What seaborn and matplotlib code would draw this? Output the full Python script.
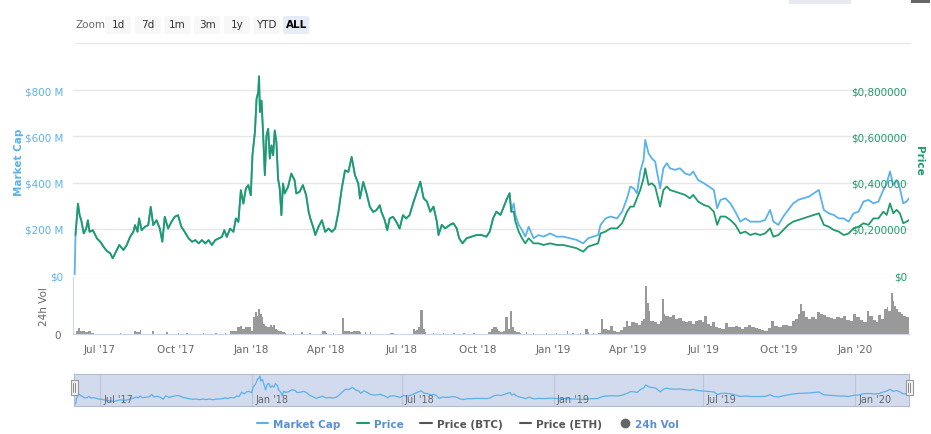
import matplotlib
matplotlib.use("Agg")
import matplotlib.pyplot as plt
import matplotlib.dates as mdates
from matplotlib.lines import Line2D
from matplotlib.patches import FancyBboxPatch, Rectangle
import numpy as np
import pandas as pd
import seaborn as sns

# market cap ($M) and price share the same curve until mid Nov 2018
shared_dates = [
    "2017-06-02", "2017-06-05", "2017-06-07", "2017-06-09", "2017-06-12", "2017-06-15", "2017-06-17", "2017-06-19", "2017-06-23", "2017-06-28",
    "2017-07-02", "2017-07-06", "2017-07-10", "2017-07-14", "2017-07-17", "2017-07-20", "2017-07-25", "2017-07-30",
    "2017-08-03", "2017-08-07", "2017-08-11", "2017-08-13", "2017-08-16", "2017-08-18", "2017-08-21", "2017-08-25", "2017-08-29",
    "2017-09-01", "2017-09-04", "2017-09-08", "2017-09-12", "2017-09-15", "2017-09-18", "2017-09-22", "2017-09-26", "2017-09-30",
    "2017-10-04", "2017-10-08", "2017-10-12", "2017-10-17", "2017-10-21", "2017-10-25", "2017-10-29",
    "2017-11-02", "2017-11-06", "2017-11-10", "2017-11-14", "2017-11-18", "2017-11-22", "2017-11-26", "2017-11-29",
    "2017-12-02", "2017-12-06", "2017-12-10", "2017-12-13", "2017-12-16", "2017-12-19", "2017-12-22", "2017-12-25", "2017-12-28", "2017-12-31",
    "2018-01-02", "2018-01-05", "2018-01-07", "2018-01-09", "2018-01-10", "2018-01-11", "2018-01-13", "2018-01-15",
    "2018-01-17", "2018-01-19", "2018-01-21", "2018-01-23", "2018-01-25", "2018-01-27", "2018-01-29", "2018-01-31",
    "2018-02-02", "2018-02-04", "2018-02-06", "2018-02-08", "2018-02-10", "2018-02-14", "2018-02-18", "2018-02-22", "2018-02-24", "2018-02-28",
    "2018-03-04", "2018-03-08", "2018-03-11", "2018-03-13", "2018-03-17", "2018-03-19", "2018-03-23", "2018-03-27", "2018-03-31",
    "2018-04-04", "2018-04-08", "2018-04-12", "2018-04-16", "2018-04-20", "2018-04-24", "2018-04-28",
    "2018-05-02", "2018-05-06", "2018-05-10", "2018-05-12", "2018-05-16", "2018-05-20", "2018-05-24", "2018-05-28",
    "2018-06-01", "2018-06-05", "2018-06-07", "2018-06-11", "2018-06-14", "2018-06-17", "2018-06-21", "2018-06-25", "2018-06-29",
    "2018-07-03", "2018-07-07", "2018-07-11", "2018-07-16", "2018-07-20", "2018-07-24", "2018-07-28",
    "2018-08-01", "2018-08-05", "2018-08-09", "2018-08-13", "2018-08-15", "2018-08-19", "2018-08-23", "2018-08-29",
    "2018-09-02", "2018-09-06", "2018-09-09", "2018-09-13", "2018-09-18", "2018-09-24", "2018-09-30",
    "2018-10-06", "2018-10-12", "2018-10-16", "2018-10-20", "2018-10-24", "2018-10-29",
    "2018-11-02", "2018-11-06", "2018-11-09", "2018-11-11",
]
shared_musd = [
    173, 309, 259, 237, 180, 201, 237, 187, 194, 158,
    144, 122, 104, 94, 72, 94, 130, 108,
    130, 165, 187, 216, 187, 245, 194, 209, 216,
    295, 216, 237, 201, 144, 252, 201, 230, 252,
    259, 209, 187, 158, 144, 151, 137,
    151, 137, 151, 130, 151, 158, 165, 194,
    165, 201, 187, 245, 230, 367, 309, 374, 389, 345,
    518, 619, 763, 791, 860, 705, 755, 604,
    432, 604, 633, 504, 561, 518, 626, 576,
    417, 374, 259, 396, 353, 381, 439, 410, 353, 360,
    389, 345, 273, 245, 201, 173, 209, 237, 187,
    201, 187, 201, 273, 374, 453, 446,
    511, 432, 396, 331, 403, 353, 295, 273,
    281, 302, 273, 237, 194, 245, 252, 230, 201,
    259, 245, 259, 318, 361, 404, 332,
    318, 274, 296, 231, 173, 217, 202, 217,
    224, 202, 159, 137, 159, 166, 173,
    173, 166, 188, 245, 274, 260,
    296, 332, 354, 274,
]

# after mid Nov 2018 the two curves split
late_dates = [
    "2018-11-14", "2018-11-16", "2018-11-20", "2018-11-24", "2018-11-28",
    "2018-12-02", "2018-12-08", "2018-12-14", "2018-12-20", "2018-12-28",
    "2019-01-05", "2019-01-13", "2019-01-21", "2019-01-29",
    "2019-02-06", "2019-02-12", "2019-02-18", "2019-02-24", "2019-02-27",
    "2019-03-05", "2019-03-11", "2019-03-19", "2019-03-25", "2019-03-31",
    "2019-04-04", "2019-04-08", "2019-04-12", "2019-04-16", "2019-04-20", "2019-04-22", "2019-04-26", "2019-04-30",
    "2019-05-04", "2019-05-10", "2019-05-14", "2019-05-18", "2019-05-22", "2019-05-28",
    "2019-06-03", "2019-06-09", "2019-06-15", "2019-06-19", "2019-06-25",
    "2019-07-02", "2019-07-08", "2019-07-14", "2019-07-18", "2019-07-22", "2019-07-28",
    "2019-08-03", "2019-08-09", "2019-08-15", "2019-08-21", "2019-08-27",
    "2019-09-02", "2019-09-08", "2019-09-14", "2019-09-20", "2019-09-24", "2019-09-30",
    "2019-10-06", "2019-10-12", "2019-10-18", "2019-10-24", "2019-10-30",
    "2019-11-06", "2019-11-12", "2019-11-18", "2019-11-24", "2019-11-30",
    "2019-12-06", "2019-12-12", "2019-12-18", "2019-12-24", "2019-12-30",
    "2020-01-05", "2020-01-11", "2020-01-17", "2020-01-23", "2020-01-29",
    "2020-02-04", "2020-02-08", "2020-02-12", "2020-02-16", "2020-02-20", "2020-02-24", "2020-02-28",
    "2020-03-03", "2020-03-06",
]
late_mcap_musd = [
    310, 260, 217, 195, 166,
    209, 159, 173, 166, 180,
    166, 166, 159, 152,
    137, 159, 166, 173, 217,
    245, 253, 245, 274, 332,
    383, 375, 354, 448, 498, 585, 527, 505,
    491, 375, 462, 484, 462, 455,
    462, 440, 433, 448, 411,
    397, 383, 368, 289, 325, 332,
    310, 274, 231, 245, 231,
    231, 231, 238, 282, 231, 217,
    253, 282, 310, 325, 332,
    339, 354, 368, 282, 267,
    260, 245, 245, 231, 267,
    274, 318, 325, 310, 318,
    368, 397, 448, 390, 411, 375, 310,
    318, 332,
]
late_price_usd = [
    0.274, 0.231, 0.188, 0.159, 0.137,
    0.159, 0.137, 0.137, 0.130, 0.137,
    0.130, 0.130, 0.123, 0.116,
    0.101, 0.123, 0.130, 0.137, 0.180,
    0.188, 0.202, 0.202, 0.224, 0.274,
    0.296, 0.296, 0.332, 0.368, 0.419, 0.462, 0.390, 0.397,
    0.383, 0.296, 0.368, 0.383, 0.368, 0.361,
    0.354, 0.347, 0.332, 0.347, 0.318,
    0.303, 0.296, 0.274, 0.217, 0.253, 0.253,
    0.238, 0.217, 0.180, 0.188, 0.173,
    0.180, 0.173, 0.180, 0.202, 0.166, 0.173,
    0.195, 0.217, 0.231, 0.238, 0.245,
    0.253, 0.260, 0.267, 0.217, 0.209,
    0.195, 0.188, 0.173, 0.180, 0.202,
    0.209, 0.224, 0.217, 0.245, 0.245,
    0.274, 0.260, 0.310, 0.267, 0.282, 0.267, 0.224,
    0.231, 0.238,
]

# 24h volume (relative units, $M)
vol_dates = [
    "2017-06-03", "2017-06-05", "2017-06-07", "2017-06-11", "2017-06-13", "2017-06-17", "2017-06-20", "2017-06-23",
    "2017-07-06", "2017-07-26", "2017-08-12", "2017-08-14", "2017-08-19", "2017-09-03", "2017-09-20",
    "2017-10-04", "2017-10-14", "2017-11-03", "2017-11-18", "2017-11-30",
    "2017-12-06", "2017-12-10", "2017-12-14", "2017-12-18", "2017-12-20", "2017-12-24", "2017-12-28", "2017-12-31",
    "2018-01-03", "2018-01-05", "2018-01-07", "2018-01-09", "2018-01-11", "2018-01-13", "2018-01-15",
    "2018-01-17", "2018-01-19", "2018-01-23", "2018-01-25", "2018-01-27", "2018-01-29", "2018-01-31",
    "2018-02-02", "2018-02-06", "2018-02-10", "2018-02-20", "2018-03-02", "2018-03-12", "2018-03-27",
    "2018-04-01", "2018-04-09", "2018-04-20", "2018-04-22", "2018-04-26", "2018-04-30",
    "2018-05-04", "2018-05-08", "2018-05-12", "2018-05-18", "2018-05-24", "2018-06-17", "2018-06-21",
    "2018-07-15", "2018-07-17", "2018-07-19", "2018-07-21", "2018-07-24", "2018-07-27", "2018-07-29",
    "2018-08-08", "2018-08-20", "2018-09-02", "2018-09-14", "2018-09-26",
    "2018-10-14", "2018-10-18", "2018-10-20", "2018-10-22", "2018-10-24", "2018-10-26", "2018-10-28",
    "2018-11-01", "2018-11-04", "2018-11-07", "2018-11-10", "2018-11-12", "2018-11-14", "2018-11-17", "2018-11-21", "2018-11-29",
    "2018-12-07", "2018-12-23", "2019-01-04", "2019-01-17", "2019-01-24",
    "2019-02-02", "2019-02-08", "2019-02-12", "2019-02-18", "2019-02-24", "2019-02-27",
    "2019-03-02", "2019-03-06", "2019-03-10", "2019-03-14", "2019-03-18", "2019-03-22", "2019-03-26", "2019-03-30",
    "2019-04-01", "2019-04-05", "2019-04-09", "2019-04-13", "2019-04-17", "2019-04-19", "2019-04-22", "2019-04-24", "2019-04-26", "2019-04-28",
    "2019-05-02", "2019-05-06", "2019-05-10", "2019-05-12", "2019-05-14", "2019-05-16", "2019-05-20", "2019-05-24", "2019-05-28",
    "2019-06-01", "2019-06-05", "2019-06-09", "2019-06-13", "2019-06-17", "2019-06-21", "2019-06-25", "2019-06-29",
    "2019-07-02", "2019-07-05", "2019-07-09", "2019-07-12", "2019-07-15", "2019-07-19", "2019-07-23", "2019-07-28", "2019-07-31",
    "2019-08-04", "2019-08-08", "2019-08-12", "2019-08-16", "2019-08-20", "2019-08-24", "2019-08-28",
    "2019-09-01", "2019-09-05", "2019-09-09", "2019-09-13", "2019-09-17", "2019-09-21", "2019-09-25", "2019-09-29",
    "2019-10-04", "2019-10-08", "2019-10-12", "2019-10-16", "2019-10-20", "2019-10-24", "2019-10-26", "2019-10-28",
    "2019-11-01", "2019-11-05", "2019-11-09", "2019-11-13", "2019-11-16", "2019-11-19", "2019-11-23", "2019-11-27",
    "2019-12-01", "2019-12-05", "2019-12-09", "2019-12-13", "2019-12-17", "2019-12-21", "2019-12-25", "2019-12-29",
    "2020-01-02", "2020-01-06", "2020-01-10", "2020-01-15", "2020-01-18", "2020-01-22", "2020-01-26", "2020-01-29",
    "2020-02-01", "2020-02-05", "2020-02-08", "2020-02-10", "2020-02-13", "2020-02-15", "2020-02-17", "2020-02-19",
    "2020-02-22", "2020-02-25", "2020-02-28", "2020-03-02", "2020-03-05",
]
vol_musd = [
    0.8, 1.8, 1.0, 0.8, 0.6, 0.8, 0.4, 0.2,
    0.1, 0.3, 1.0, 0.6, 1.2, 0.8, 0.5,
    0.3, 0.2, 0.3, 0.4, 0.4,
    0.8, 1.0, 2.2, 2.5, 1.5, 2.0, 2.2, 1.0,
    5.0, 6.5, 5.5, 7.5, 6.0, 5.0, 3.0,
    2.5, 2.0, 2.8, 2.0, 2.6, 1.5, 1.2,
    0.8, 0.5, 0.3, 0.2, 0.6, 0.2, 1.0,
    0.3, 0.4, 4.8, 1.0, 0.8, 0.6,
    1.0, 0.8, 0.6, 0.5, 0.5, 0.3, 0.3,
    1.5, 1.0, 1.2, 2.0, 7.2, 1.5, 0.5,
    0.3, 0.4, 0.3, 0.3, 0.2,
    0.5, 1.5, 2.0, 2.2, 1.5, 1.0, 0.5,
    0.8, 5.2, 1.5, 6.8, 2.0, 1.0, 0.5, 0.3, 0.6,
    0.3, 0.3, 0.2, 0.8, 0.4,
    0.3, 1.5, 0.6, 0.4, 0.2, 4.5,
    1.5, 1.2, 2.5, 1.0, 0.5, 1.2, 2.0, 4.0,
    2.5, 3.5, 3.2, 2.8, 4.0, 4.5, 14.5, 9.5, 7.0, 4.0,
    3.5, 3.0, 3.8, 10.5, 6.0, 5.5, 5.0, 5.8, 4.5,
    4.8, 4.0, 3.5, 4.0, 3.0, 3.8, 4.2, 3.5,
    5.5, 3.0, 2.5, 3.5, 2.0, 1.8, 1.5, 3.2, 2.0,
    2.2, 2.5, 2.2, 1.5, 2.0, 2.8, 2.2,
    1.8, 1.5, 1.2, 1.0, 1.8, 3.8, 2.5, 2.0,
    2.8, 2.8, 2.5, 3.8, 4.5, 6.0, 9.0, 7.0,
    5.0, 4.5, 5.0, 4.5, 6.5, 6.0, 5.8, 5.2,
    4.8, 4.5, 5.2, 4.8, 5.5, 4.2, 4.0, 6.0,
    5.0, 4.2, 3.5, 7.0, 5.5, 4.2, 3.5, 5.8,
    4.5, 7.5, 8.0, 7.0, 12.5, 10.0, 8.5, 7.5,
    6.5, 6.0, 5.5, 5.0, 5.0,
]

x_ticks = ["2017-07-01", "2017-10-01", "2018-01-01", "2018-04-01", "2018-07-01", "2018-10-01",
           "2019-01-01", "2019-04-01", "2019-07-01", "2019-10-01", "2020-01-01"]
x_tick_labels = ["Jul '17", "Oct '17", "Jan '18", "Apr '18", "Jul '18", "Oct '18",
                 "Jan '19", "Apr '19", "Jul '19", "Oct '19", "Jan '20"]
nav_ticks = ["2017-07-01", "2018-01-01", "2018-07-01", "2019-01-01", "2019-07-01", "2020-01-01"]
nav_tick_labels = ["Jul '17", "Jan '18", "Jul '18", "Jan '19", "Jul '19", "Jan '20"]
mcap_ticks = [0, 200, 400, 600, 800]
mcap_tick_labels = ["$0", "$200 M", "$400 M", "$600 M", "$800 M"]
price_ticks = [0, 0.2, 0.4, 0.6, 0.8]
price_tick_labels = ["$0", "$0,200000", "$0,400000", "$0,600000", "$0,800000"]
zoom_buttons = ["1d", "7d", "1m", "3m", "1y", "YTD", "ALL"]
legend_labels = ["Market Cap", "Price", "Price (BTC)", "Price (ETH)", "24h Vol"]

BLUE = "#5ab2ea"
GREEN = "#1f9b6b"
GRID = "#e6e6e6"
AXIS = "#ccd6eb"
LABEL = "#666666"
W, H = 931, 435


def box(x0, y0, x1, y1):
    """Pixel box (top-left origin) -> figure fraction rect."""
    return [x0 / W, 1 - y1 / H, (x1 - x0) / W, (y1 - y0) / H]


mcap = pd.DataFrame({
    "date": pd.to_datetime(["2017-06-01"] + shared_dates + late_dates),
    "value": [0] + shared_musd + late_mcap_musd,
})
price = pd.DataFrame({
    "date": pd.to_datetime(shared_dates + late_dates),
    "value": [v / 1000 for v in shared_musd] + late_price_usd,
})
vol = pd.DataFrame({"date": pd.to_datetime(vol_dates), "value": vol_musd})
# bars fill the gap to the next reading where readings are dense, stay thin where sparse
vol_num = mdates.date2num(vol["date"])
gaps = np.diff(vol_num, append=vol_num[-1] + 3.0)
bar_widths = np.where(gaps <= 5, gaps + 0.2, 1.6)
xlim = (pd.Timestamp("2017-05-30"), pd.Timestamp("2020-03-06"))

sns.set_style("white")
plt.rcParams["font.family"] = ["DejaVu Sans"]

fig = plt.figure(figsize=(W / 100, H / 100), dpi=100)

# volume panel (added first so the main panel's "$0" labels sit above it)
axv = fig.add_axes(box(73, 278, 909, 335))
axv.set_facecolor("none")
axv.bar(vol_num, vol["value"], width=bar_widths, align="edge", color="#999999", linewidth=0)
axv.xaxis_date()
axv.set_xlim(xlim)
axv.set_ylim(0, 17.2)
axv.set_yticks([0])
axv.set_yticklabels(["0"])
axv.set_xticks(pd.to_datetime(x_ticks))
axv.set_xticklabels(x_tick_labels)
axv.tick_params(axis="y", length=0, pad=9, labelcolor=LABEL, labelsize=7.5)
axv.tick_params(axis="x", length=4, width=0.8, color=AXIS, pad=3, labelcolor=LABEL, labelsize=7.5)
for side in ("top", "right"):
    axv.spines[side].set_visible(False)
for side in ("left", "bottom"):
    axv.spines[side].set_color(AXIS)
    axv.spines[side].set_linewidth(0.8)
fig.text(44 / W, 1 - 307 / H, "24h Vol", rotation=90, color=LABEL, fontsize=7.5,
         ha="center", va="center")

# main panel: market cap (left) + price (right)
ax = fig.add_axes(box(73, 60, 909, 276))
ax.set_facecolor("none")
sns.lineplot(data=mcap, x="date", y="value", ax=ax, color=BLUE, linewidth=1.3, estimator=None)
ax.set_xlim(xlim)
ax.set_ylim(0, 935)
ax.set_yticks(mcap_ticks)
ax.set_yticklabels(mcap_tick_labels)
ax.set_xticks([])
ax.tick_params(axis="y", length=0, pad=7, labelcolor=BLUE, labelsize=7.5)
ax.grid(axis="y", color=GRID, linewidth=1)
ax.set_xlabel("")
ax.set_ylabel("")
for s in ax.spines.values():
    s.set_visible(False)

ax2 = ax.twinx()
sns.lineplot(data=price, x="date", y="value", ax=ax2, color=GREEN, linewidth=1.3, estimator=None)
ax2.set_xlim(xlim)
ax2.set_ylim(0, 0.935)
ax2.set_yticks(price_ticks)
ax2.set_yticklabels(price_tick_labels)
ax2.tick_params(axis="y", length=0, pad=-1.5, labelcolor=GREEN, labelsize=7.5)
plt.setp(ax2.get_yticklabels(), ha="right")
ax2.set_ylabel("")
ax2.set_xlabel("")
for s in ax2.spines.values():
    s.set_visible(False)

fig.text(19 / W, 1 - 162 / H, "Market Cap", rotation=90, color=BLUE, fontsize=7.5,
         fontweight="bold", ha="center", va="center")
fig.text(919 / W, 1 - 161 / H, "Price", rotation=270, color=GREEN, fontsize=7.5,
         fontweight="bold", ha="center", va="center")

# navigator
axn = fig.add_axes(box(74, 375, 909, 407))
axn.set_facecolor("#d2daed")
sns.lineplot(data=mcap, x="date", y="value", ax=axn, color=BLUE, linewidth=0.9, estimator=None)
axn.set_xlim(xlim)
axn.set_ylim(-61, 921)
axn.set_xticks(pd.to_datetime(nav_ticks))
axn.set_xticklabels([])
axn.set_yticks([])
axn.tick_params(length=0)
axn.grid(axis="x", color="#bdc5d8", linewidth=0.8)
axn.set_xlabel("")
axn.set_ylabel("")
for s in axn.spines.values():
    s.set_color("#b4bccd")
    s.set_linewidth(0.8)
for d, lab in zip(mdates.date2num(pd.to_datetime(nav_ticks)), nav_tick_labels):
    axn.annotate(lab, xy=(d, 0.22), xycoords=axn.get_xaxis_transform(), xytext=(2, 0),
                 textcoords="offset points", ha="left", va="center", fontsize=7, color=LABEL)

for hx in (74, 909):
    fig.add_artist(Rectangle(((hx - 3.5) / W, 1 - 396 / H), 7 / W, 15 / H, transform=fig.transFigure,
                             facecolor="#f2f2f2", edgecolor="#999999", linewidth=0.8))
    for dx in (-1.2, 1.2):
        fig.add_artist(Line2D([(hx + dx) / W] * 2, [1 - 393 / H, 1 - 384 / H],
                              color="#888888", linewidth=0.7))

# legend
handles = [
    Line2D([], [], color=BLUE, linewidth=1.5),
    Line2D([], [], color=GREEN, linewidth=1.5),
    Line2D([], [], color="#555555", linewidth=1.5),
    Line2D([], [], color="#555555", linewidth=1.5),
    Line2D([], [], color="#666666", marker="o", markersize=6, linestyle="none"),
]
leg = fig.legend(handles, legend_labels, loc="center", bbox_to_anchor=(468 / W, 1 - 425 / H),
                 ncol=5, frameon=False, prop={"size": 7.5, "weight": "bold"},
                 handlelength=1.1, handletextpad=0.5, columnspacing=1.6)
for txt, col in zip(leg.get_texts(), ["#5a8fcf", "#5a8fcf", "#555555", "#555555", "#5a8fcf"]):
    txt.set_color(col)

# range selector buttons
fig.text(75 / W, 1 - 25 / H, "Zoom", color=LABEL, fontsize=7.5, va="center")
for i, name in enumerate(zoom_buttons):
    x0 = 105 + i * 29.7
    active = name == "ALL"
    fig.add_artist(FancyBboxPatch((x0 / W, 1 - 35 / H), 26 / W, 18 / H, boxstyle="round,pad=0,rounding_size=0.003",
                                  transform=fig.transFigure, facecolor="#e6ebf5" if active else "#f7f7f7",
                                  edgecolor="none"))
    fig.text((x0 + 13) / W, 1 - 25.5 / H, name, ha="center", va="center", fontsize=7.5,
             color="#000000" if active else "#333333", fontweight="bold" if active else "normal")
fig.add_artist(Line2D([75 / W, 910 / W], [1 - 44 / H] * 2, color=GRID, linewidth=0.8))

# bits of the page header cut off at the top
fig.add_artist(Rectangle((789 / W, 1 - 5 / H), 62 / W, 5 / H, transform=fig.transFigure,
                         facecolor="#e6e9ed", edgecolor="none"))
fig.add_artist(Rectangle((911 / W, 1 - 4 / H), 19 / W, 4 / H, transform=fig.transFigure,
                         facecolor="#666666", edgecolor="none"))

fig.savefig("out.png", dpi=100)
